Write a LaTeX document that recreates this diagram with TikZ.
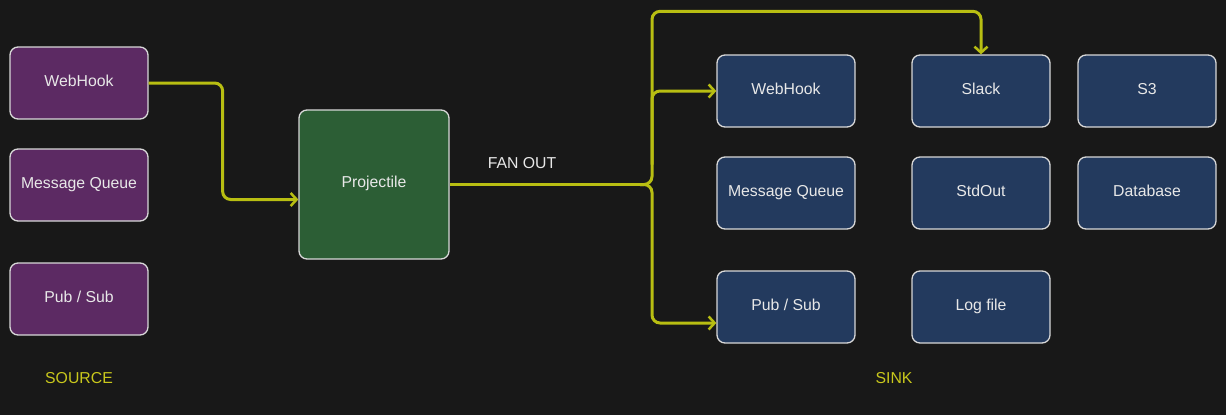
\documentclass[tikz,border=0pt]{standalone}
\usepackage{fontspec}
\setmainfont{Liberation Sans}
\usetikzlibrary{arrows.meta,calc}
\definecolor{bg}{HTML}{181818}
\definecolor{srcfill}{HTML}{5C2A63}
\definecolor{procfill}{HTML}{2C5E35}
\definecolor{sinkfill}{HTML}{233A5E}
\definecolor{edge}{HTML}{D8D8D8}
\definecolor{wire}{HTML}{B8BE12}
\definecolor{lbl}{HTML}{C9C81C}
\definecolor{txt}{HTML}{E8E8E8}
\begin{document}
\begin{tikzpicture}[x=1pt,y=-1pt,
  box/.style={draw=edge,line width=1.3pt,rounded corners=8pt,minimum width=138pt,minimum height=72pt,text=txt,font=\fontsize{15.8}{18}\selectfont,inner sep=0pt,text height=12pt,text depth=6pt},
  srcbox/.style={box,fill=srcfill},
  sinkbox/.style={box,fill=sinkfill},
  wirearrow/.style={draw=wire,line width=3pt,rounded corners=8pt,-{Straight Barb[length=6pt,width=13pt,line width=2.5pt]}},
  wireplain/.style={draw=wire,line width=3pt,rounded corners=8pt},
  grouplabel/.style={text=lbl,font=\fontsize{15.8}{18}\selectfont},
  plainlabel/.style={text=txt,font=\fontsize{15.8}{18}\selectfont}]
\fill[bg] (0,0) rectangle (1226,415);
\useasboundingbox (0,0) rectangle (1226,415);
% sources
\node[srcbox] (s1) at (79,83) {WebHook};
\node[srcbox] (s2) at (79,185) {Message Queue};
\node[srcbox] (s3) at (79,299) {Pub / Sub};
% processor
\node[box,fill=procfill,minimum width=150pt,minimum height=149pt] (proj) at (374,184.5) {Projectile};
% sinks
\node[sinkbox] (k1) at (786,91) {WebHook};
\node[sinkbox] (k2) at (786,193) {Message Queue};
\node[sinkbox] (k3) at (786,307) {Pub / Sub};
\node[sinkbox] (k4) at (981,91) {Slack};
\node[sinkbox] (k5) at (981,193) {StdOut};
\node[sinkbox] (k6) at (981,307) {Log file};
\node[sinkbox] (k7) at (1147,91) {S3};
\node[sinkbox] (k8) at (1147,193) {Database};
% labels
\node[grouplabel] (lsrc) at (79,378) {SOURCE};
\node[grouplabel] (lsink) at (894,378) {SINK};
\node[plainlabel] (lfan) at (522,163) {FAN OUT};
% connectors
\coordinate (j) at (652,184.5);
\draw[wirearrow] (s1.east) -- ++(74,0) |- ($(proj.west)+(0,15)$);
\draw[wireplain] (proj.east) -- ($(j)+(-10,0)$);
\draw[wirearrow] ($(j)+(-12,0)$) -| ($(j)+(0,-20)$) |- (k1.west);
\draw[wirearrow] ($(j)+(-12,0)$) -| ($(j)+(0,20)$) |- ($(k3.west)+(0,16)$);
\draw[wirearrow] ($(j)+(0,-20)$) |- ($(k4.north)+(0,-43)$) -- (k4.north);
\end{tikzpicture}
\end{document}
